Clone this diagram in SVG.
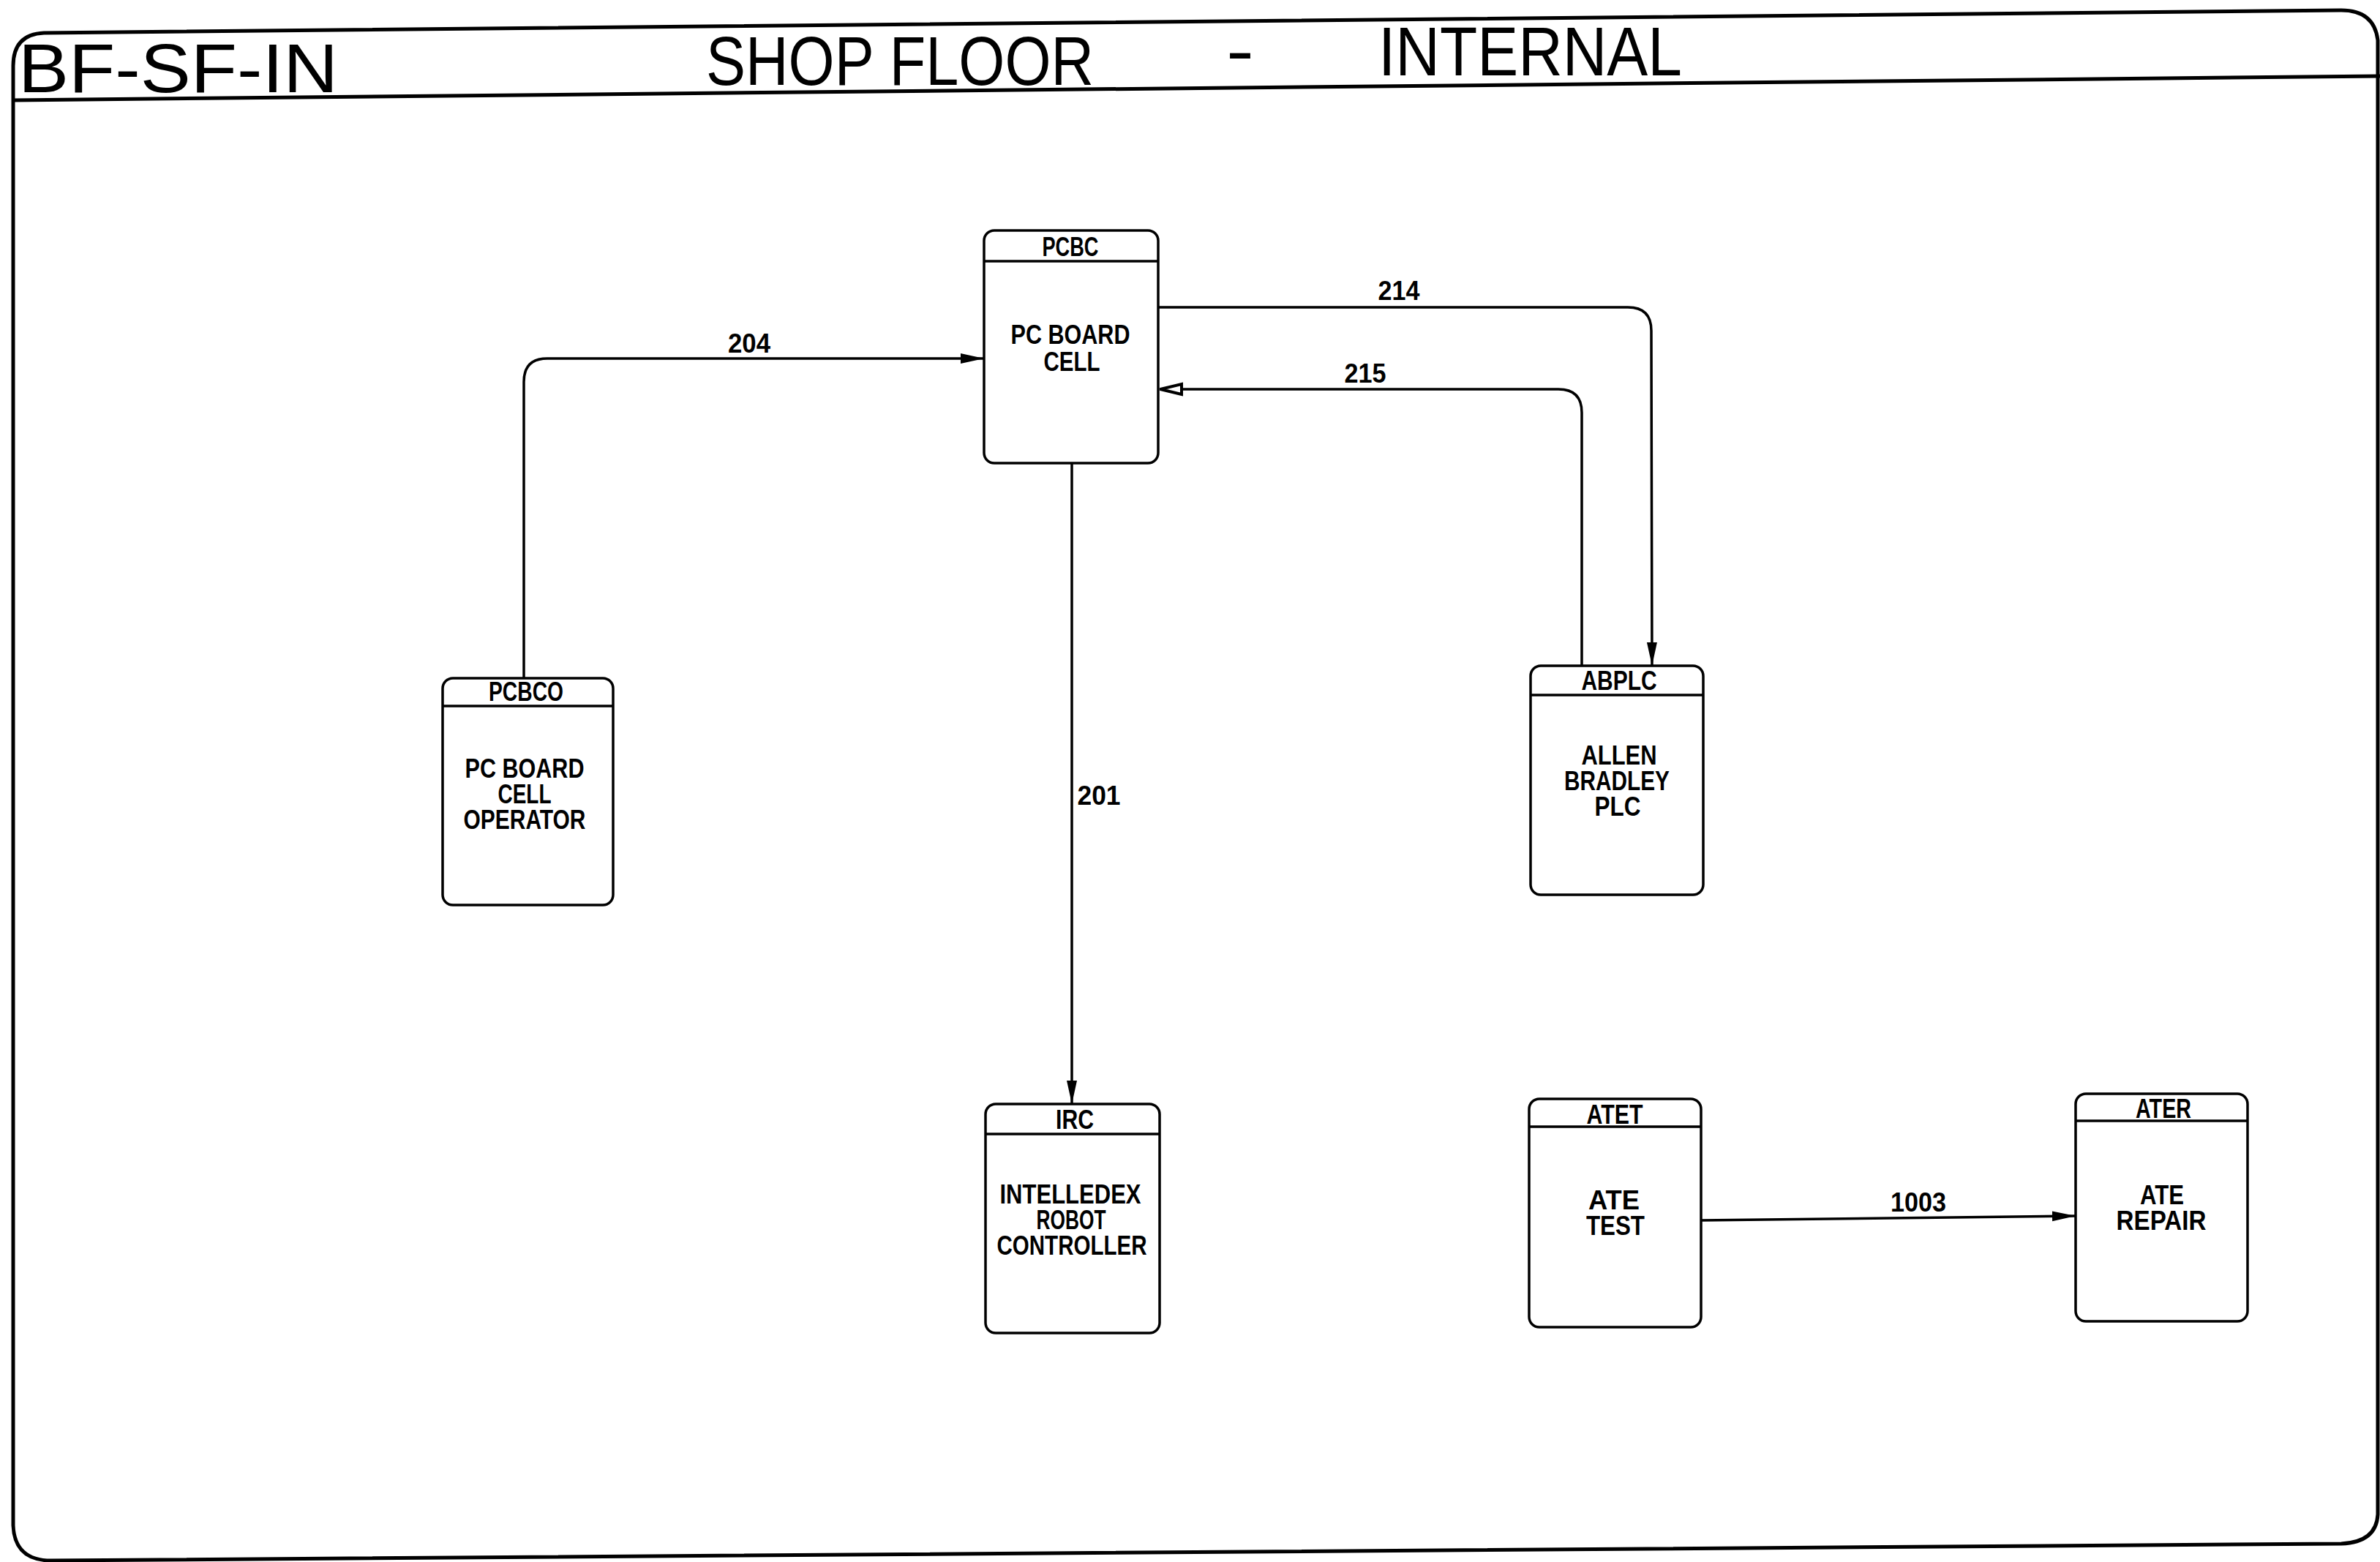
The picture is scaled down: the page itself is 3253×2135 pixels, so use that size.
<svg xmlns="http://www.w3.org/2000/svg" width="3253" height="2135" viewBox="0 0 3253 2135">
<style>
.frame{fill:none;stroke:#000;stroke-width:5;stroke-linejoin:round}
.title{font-family:"Liberation Sans",Arial,sans-serif;font-size:94px;fill:#000}
.box{fill:#fff;stroke:#000;stroke-width:3.5}
.hdr{stroke:#000;stroke-width:3.5}
.lbl{font-family:"Liberation Sans",Arial,sans-serif;font-weight:bold;font-size:36px;fill:#000;text-anchor:middle}
.conn{fill:none;stroke:#000;stroke-width:3.5}
.num{font-family:"Liberation Sans",Arial,sans-serif;font-weight:bold;font-size:37px;fill:#000;text-anchor:middle}
</style>
<defs>
<marker id="arr" markerUnits="userSpaceOnUse" markerWidth="32" markerHeight="16" refX="32" refY="8" orient="auto">
<path d="M0,1 L32,8 L0,15 Z" fill="#000"/>
</marker>
<marker id="open" markerUnits="userSpaceOnUse" markerWidth="34" markerHeight="20" refX="32" refY="10" orient="auto">
<path d="M2,3 L31,10 L2,17 Z" fill="#fff" stroke="#000" stroke-width="4"/>
</marker>
</defs>
<rect x="0" y="0" width="3253" height="2135" fill="#fff"/>
<g id="frame">
<path class="frame" d="M18 90 Q18 47 60 45 L3200 14 Q3245 14 3250 55 L3250 2070 Q3248 2108 3200 2110 L70 2133 Q20 2133 18 2085 Z"/>
<line class="frame" x1="18" y1="137" x2="3253" y2="104"/>
<text class="title" x="25" y="126" textLength="437" lengthAdjust="spacingAndGlyphs">BF-SF-IN</text>
<text class="title" x="965" y="116" textLength="530" lengthAdjust="spacingAndGlyphs">SHOP FLOOR</text>
<text class="title" x="1676" y="101" textLength="38" lengthAdjust="spacingAndGlyphs">-</text>
<text class="title" x="1884" y="103" textLength="415" lengthAdjust="spacingAndGlyphs">INTERNAL</text>
</g>
<g id="connectors">
<path class="conn" d="M716 927 L716 522 Q716 490 748 490 L1345 490" marker-end="url(#arr)"/>
<path class="conn" d="M1583 420 L2225 420 Q2257 420 2257 452 L2258 910" marker-end="url(#arr)"/>
<path class="conn" d="M2162 910 L2162 564 Q2162 532 2130 532 L1585 532" marker-end="url(#open)"/>
<path class="conn" d="M1465 633 L1465 1509" marker-end="url(#arr)"/>
<path class="conn" d="M2325 1668 L2837 1662" marker-end="url(#arr)"/>
<text class="num" x="1024" y="482" textLength="58" lengthAdjust="spacingAndGlyphs">204</text>
<text class="num" x="1912" y="410" textLength="57" lengthAdjust="spacingAndGlyphs">214</text>
<text class="num" x="1866" y="523" textLength="57" lengthAdjust="spacingAndGlyphs">215</text>
<text class="num" x="1502" y="1100" textLength="59" lengthAdjust="spacingAndGlyphs">201</text>
<text class="num" x="2622" y="1656" textLength="76" lengthAdjust="spacingAndGlyphs">1003</text>
</g>
<g id="PCBC">
<rect class="box" x="1345" y="315" width="238" height="318" rx="14"/>
<line class="hdr" x1="1345" y1="357" x2="1583" y2="357"/>
<text class="lbl" x="1463" y="350" textLength="77" lengthAdjust="spacingAndGlyphs">PCBC</text>
<text class="lbl" x="1463" y="470" textLength="163" lengthAdjust="spacingAndGlyphs">PC BOARD</text>
<text class="lbl" x="1465" y="507" textLength="77" lengthAdjust="spacingAndGlyphs">CELL</text>
</g>
<g id="PCBCO">
<rect class="box" x="605" y="927" width="233" height="310" rx="14"/>
<line class="hdr" x1="605" y1="965" x2="838" y2="965"/>
<text class="lbl" x="719" y="958" textLength="102" lengthAdjust="spacingAndGlyphs">PCBCO</text>
<text class="lbl" x="717" y="1063" textLength="163" lengthAdjust="spacingAndGlyphs">PC BOARD</text>
<text class="lbl" x="717" y="1098" textLength="73" lengthAdjust="spacingAndGlyphs">CELL</text>
<text class="lbl" x="717" y="1133" textLength="167" lengthAdjust="spacingAndGlyphs">OPERATOR</text>
</g>
<g id="ABPLC">
<rect class="box" x="2092" y="910" width="236" height="313" rx="14"/>
<line class="hdr" x1="2092" y1="950" x2="2328" y2="950"/>
<text class="lbl" x="2213" y="943" textLength="103" lengthAdjust="spacingAndGlyphs">ABPLC</text>
<text class="lbl" x="2213" y="1045" textLength="103" lengthAdjust="spacingAndGlyphs">ALLEN</text>
<text class="lbl" x="2210" y="1080" textLength="144" lengthAdjust="spacingAndGlyphs">BRADLEY</text>
<text class="lbl" x="2211" y="1115" textLength="63" lengthAdjust="spacingAndGlyphs">PLC</text>
</g>
<g id="IRC">
<rect class="box" x="1347" y="1509" width="238" height="313" rx="14"/>
<line class="hdr" x1="1347" y1="1550" x2="1585" y2="1550"/>
<text class="lbl" x="1469" y="1543" textLength="52" lengthAdjust="spacingAndGlyphs">IRC</text>
<text class="lbl" x="1463" y="1645" textLength="193" lengthAdjust="spacingAndGlyphs">INTELLEDEX</text>
<text class="lbl" x="1464" y="1680" textLength="95" lengthAdjust="spacingAndGlyphs">ROBOT</text>
<text class="lbl" x="1465" y="1715" textLength="205" lengthAdjust="spacingAndGlyphs">CONTROLLER</text>
</g>
<g id="ATET">
<rect class="box" x="2090" y="1502" width="235" height="312" rx="14"/>
<line class="hdr" x1="2090" y1="1540" x2="2325" y2="1540"/>
<text class="lbl" x="2207" y="1536" textLength="77" lengthAdjust="spacingAndGlyphs">ATET</text>
<text class="lbl" x="2206" y="1653" textLength="70" lengthAdjust="spacingAndGlyphs">ATE</text>
<text class="lbl" x="2208" y="1688" textLength="80" lengthAdjust="spacingAndGlyphs">TEST</text>
</g>
<g id="ATER">
<rect class="box" x="2837" y="1495" width="235" height="311" rx="14"/>
<line class="hdr" x1="2837" y1="1532" x2="3072" y2="1532"/>
<text class="lbl" x="2957" y="1528" textLength="76" lengthAdjust="spacingAndGlyphs">ATER</text>
<text class="lbl" x="2955" y="1646" textLength="60" lengthAdjust="spacingAndGlyphs">ATE</text>
<text class="lbl" x="2954" y="1681" textLength="123" lengthAdjust="spacingAndGlyphs">REPAIR</text>
</g>
</svg>
